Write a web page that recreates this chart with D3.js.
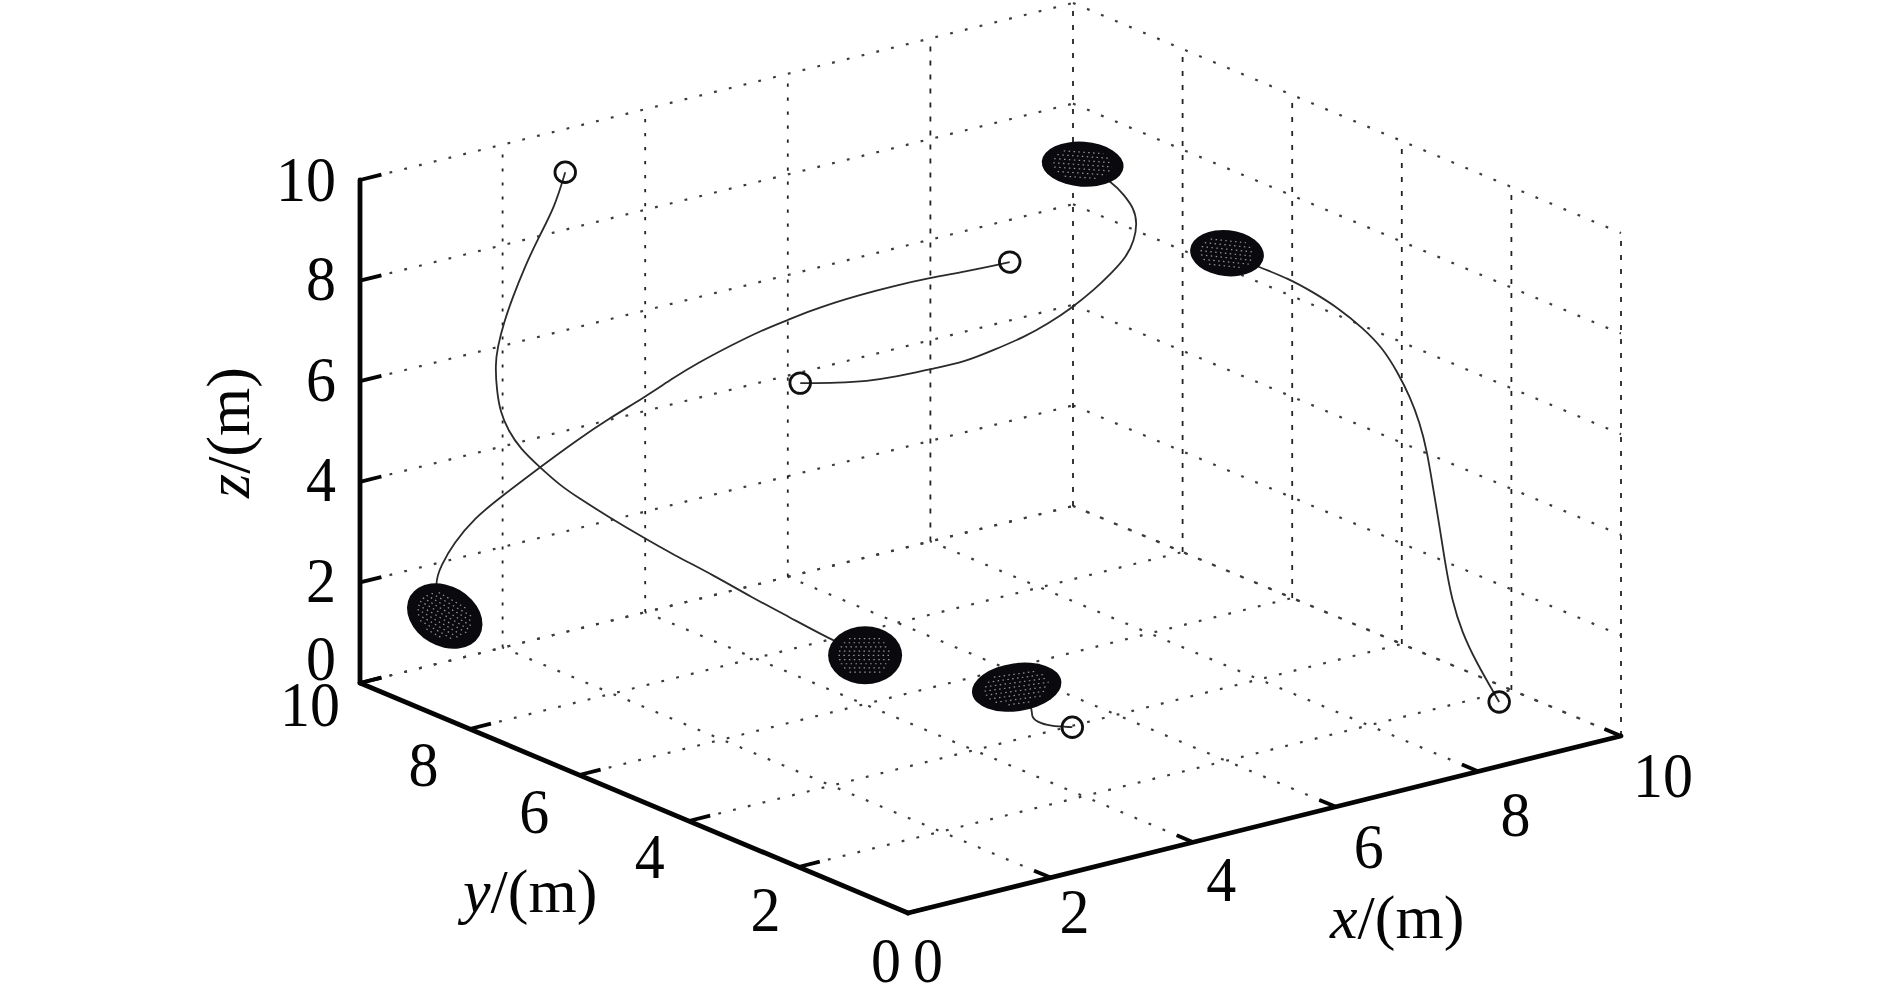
<!DOCTYPE html>
<html>
<head>
<meta charset="utf-8">
<script src="https://cdnjs.cloudflare.com/ajax/libs/d3/7.8.5/d3.min.js"></script>
<style>
html,body{margin:0;padding:0;background:#fff;}
svg{display:block;}
text{font-family:"Liberation Serif","Times New Roman",serif;fill:#050505;}
</style>
</head>
<body>
<svg id="chart" width="1890" height="1000"></svg>
<script>
// ---------- data ----------
const ticks = [0, 2, 4, 6, 8, 10];
const innerTicks = [2, 4, 6, 8, 10];
const xTickLabels = ["0", "2", "4", "6", "8", "10"];
const yTickLabels = ["0", "2", "4", "6", "8", "10"];
const zTickLabels = ["0", "2", "4", "6", "8", "10"];

const pathAx = [2.11,1.81,1.43,1.08,0.76,0.56,0.39,0.36,0.38,0.43,0.54,0.71,0.92,1.11,1.30,1.57,1.88,2.18,2.57,2.95,3.33,3.64,4.01];
const pathAy = [9,8.8,8.6,8.4,8.2,8.1,8,8,8,8,8,8,7.9,7.8,7.7,7.5,7.3,7.1,6.9,6.7,6.5,6.2,6];
const pathAz = [9.87,9.38,9.00,8.62,8.23,7.85,7.44,7.11,6.61,6.15,5.75,5.32,4.91,4.55,4.27,3.89,3.48,3.10,2.66,2.18,1.74,1.35,0.97];

const pathBx = [0.42,0.26,0.37,0.47,0.69,0.94,1.38,1.76,2.03,2.37,2.64,2.81,3.14,3.41,3.61,3.80,3.97,4.14,4.40,4.69,4.95,5.24,5.27];
const pathBy = [9,9,9,8.9,8.8,8.7,8.5,8.3,8.1,7.9,7.7,7.5,7.3,7.1,6.9,6.7,6.5,6.3,6,5.7,5.4,5.1,5];
const pathBz = [1.64,2.31,2.67,3.12,3.59,3.92,4.50,5.01,5.41,5.80,6.20,6.51,6.85,7.14,7.36,7.58,7.77,7.94,8.17,8.37,8.54,8.73,8.80];

const pathCx = [3.10,3.68,4.10,4.56,5.14,5.64,6.09,6.55,6.97,7.37,7.72,8.00,8.25,8.40,8.48,8.47,8.37,8.26,7.83];
const pathCy = [6,6.05,6.1,6.15,6.2,6.3,6.35,6.4,6.5,6.6,6.65,6.7,6.75,6.8,6.85,6.9,6.95,7,7];
const pathCz = [6.70,6.48,6.34,6.24,6.19,6.09,6.15,6.22,6.30,6.42,6.63,6.84,7.05,7.31,7.60,7.88,8.15,8.41,8.93];

const pathDx = [6.78,7.18,7.52,7.83,8.11,8.38,8.58,8.71,8.81,8.87,8.89,8.90,8.84,8.84,8.78,8.85,8.90,9.04,9.06];
const pathDy = [3,2.9,2.85,2.8,2.7,2.6,2.5,2.4,2.3,2.2,2.1,2,1.8,1.7,1.5,1.4,1.2,1.1,1];
const pathDz = [9.36,8.97,8.67,8.31,7.94,7.49,7.07,6.59,6.11,5.61,5.12,4.42,3.74,3.07,2.45,1.81,1.29,0.75,0.55];

const pathEx = [3.83,4.06,4.03,4.11,4.30,4.61];
const pathEy = [3,3,3,3,3,3];
const pathEz = [1.77,1.29,1.13,0.98,0.83,0.70];

// which end of each path carries the ellipsoid / the circle
const paths = [
  {x: pathAx, y: pathAy, z: pathAz, circleAt: "first", blob: "last"},
  {x: pathBx, y: pathBy, z: pathBz, circleAt: "last",  blob: "first"},
  {x: pathCx, y: pathCy, z: pathCz, circleAt: "first", blob: "last"},
  {x: pathDx, y: pathDy, z: pathDz, circleAt: "last",  blob: "first"},
  {x: pathEx, y: pathEy, z: pathEz, circleAt: "last",  blob: "first"}
];
const blobShapes = [
  {rx: 37, ry: 29, rot: 0},
  {rx: 40, ry: 30, rot: 30},
  {rx: 41, ry: 22.5, rot: 4},
  {rx: 37, ry: 23, rot: 6},
  {rx: 45, ry: 24, rot: -8}
];

// ---------- oblique projection built from linear scales ----------
const origin = [908, 913];
const xToSx = d3.scaleLinear().domain([0, 10]).range([0, 713]);
const xToSy = d3.scaleLinear().domain([0, 10]).range([0, -177]);
const yToSx = d3.scaleLinear().domain([0, 10]).range([0, -548]);
const yToSy = d3.scaleLinear().domain([0, 10]).range([0, -230]);
const zToSy = d3.scaleLinear().domain([0, 10]).range([0, -503]);
const proj = (x, y, z) => [
  origin[0] + xToSx(x) + yToSx(y),
  origin[1] + xToSy(x) + yToSy(y) + zToSy(z)
];

const svg = d3.select("#chart");
const seg = (a, b) => d3.line()([a, b]);

// ---------- grid ----------
const grid = svg.append("g").attr("fill", "none");
function dotted(a, b) {
  grid.append("path").attr("d", seg(a, b))
    .attr("stroke", "#3c3c3c").attr("stroke-width", 2.2).attr("stroke-dasharray", "2.8 12.4");
}
function dashed(a, b, dash) {
  grid.append("path").attr("d", seg(a, b))
    .attr("stroke", "#222").attr("stroke-width", 1.8).attr("stroke-dasharray", dash);
}
innerTicks.forEach(v => {
  // floor
  dotted(proj(v, 0, 0), proj(v, 10, 0));
  dotted(proj(0, v, 0), proj(10, v, 0));
});
ticks.forEach(v => {
  // walls: y = 10 and x = 10
  dotted(proj(0, 10, v), proj(10, 10, v));
  dotted(proj(10, 10, v), proj(10, 0, v));
});
innerTicks.forEach(v => {
  dashed(proj(v, 10, 0), proj(v, 10, 10), v >= 8 ? "5 9" : "3.2 10.8");
  if (v < 10) dashed(proj(10, v, 0), proj(10, v, 10), "5 9");
});
dashed(proj(10, 0, 0), proj(10, 0, 10), "5 9");

// ---------- axes and ticks ----------
const axes = svg.append("g").attr("fill", "none").attr("stroke", "#050505");
[[proj(0, 10, 0), proj(0, 10, 10)], [proj(0, 0, 0), proj(0, 10, 0)], [proj(0, 0, 0), proj(10, 0, 0)]]
  .forEach(s => axes.append("path").attr("d", seg(s[0], s[1])).attr("stroke-width", 4.8).attr("stroke-linecap", "round"));
const tickLen = 0.3;
ticks.forEach(v => {
  axes.append("path").attr("d", seg(proj(0, 10, v), proj(tickLen, 10, v))).attr("stroke-width", 3.8);
  axes.append("path").attr("d", seg(proj(0, v, 0), proj(tickLen, v, 0))).attr("stroke-width", 3.8);
  axes.append("path").attr("d", seg(proj(v, 0, 0), proj(v, tickLen, 0))).attr("stroke-width", 3.8);
});

// ---------- trajectories ----------
const lineGen = d3.line().curve(d3.curveBasis);
const pts = p => p.x.map((d, i) => proj(d, p.y[i], p.z[i]));
const tracks = svg.append("g");
paths.forEach(p => {
  tracks.append("path").attr("d", lineGen(pts(p)))
    .attr("fill", "none").attr("stroke", "#2a2a2a").attr("stroke-width", 1.8);
});
paths.forEach(p => {
  const all = pts(p);
  const c = p.circleAt === "first" ? all[0] : all[all.length - 1];
  tracks.append("circle").attr("cx", c[0]).attr("cy", c[1]).attr("r", 10.3)
    .attr("fill", "none").attr("stroke", "#101010").attr("stroke-width", 2.8);
});

// ---------- ellipsoids with their wire mesh ----------
const blobs = svg.append("g");
paths.forEach((p, i) => {
  const all = pts(p);
  const c = p.blob === "first" ? all[0] : all[all.length - 1];
  const s = blobShapes[i];
  const g = blobs.append("g").attr("transform", `translate(${c[0]},${c[1]}) rotate(${s.rot})`);
  g.append("ellipse").attr("rx", s.rx).attr("ry", s.ry).attr("fill", "#0a0a0e");
  const inner = 0.72;
  for (let v = -s.ry * inner; v <= s.ry * inner; v += 4.2) {
    const half = s.rx * inner * Math.sqrt(Math.max(0, 1 - (v / (s.ry * inner)) ** 2));
    if (half < 3) continue;
    g.append("line").attr("x1", -half).attr("x2", half).attr("y1", v).attr("y2", v)
      .attr("stroke", "#d0d0d6").attr("stroke-width", 1.2)
      .attr("stroke-dasharray", "1.5 3.4").attr("opacity", 0.7);
  }
});

// ---------- tick labels ----------
const fs = 60;
const labels = svg.append("g").attr("font-size", fs);
function label(pos, txt, dx, dy, anchor) {
  labels.append("text")
    .attr("transform", `translate(${pos[0] + dx},${pos[1] + dy + fs * 0.355}) scale(1,1.05)`)
    .attr("text-anchor", anchor || "middle").text(txt);
}
const zLabelDy = [-24, -2, -2, -2, -2, 0];
ticks.forEach((v, i) => label(proj(0, 10, v), zTickLabels[i], -24, zLabelDy[i], "end"));
const yLabelDx = [-22, -33, -39, -45, -46, -50];
const yLabelDy = [48, 43, 36, 37, 36, 22];
ticks.forEach((v, i) => label(proj(0, v, 0), yTickLabels[i], yLabelDx[i], yLabelDy[i]));
const xLabelDx = [20, 24, 28, 33, 37, 42];
const xLabelDy = [48, 34, 37, 40, 43, 40];
ticks.forEach((v, i) => label(proj(v, 0, 0), xTickLabels[i], xLabelDx[i], xLabelDy[i]));

// ---------- axis titles ----------
function title(x, y, letter, rotate) {
  const t = svg.append("text").attr("font-size", 62)
    .attr("transform", `translate(${x},${y})` + (rotate ? " rotate(-90)" : ""));
  t.append("tspan").attr("font-style", "italic").text(letter);
  t.append("tspan").text("/(m)");
}
title(249, 498, "z", true);
title(463, 912, "y", false);
title(1330, 938, "x", false);
</script>
</body>
</html>
